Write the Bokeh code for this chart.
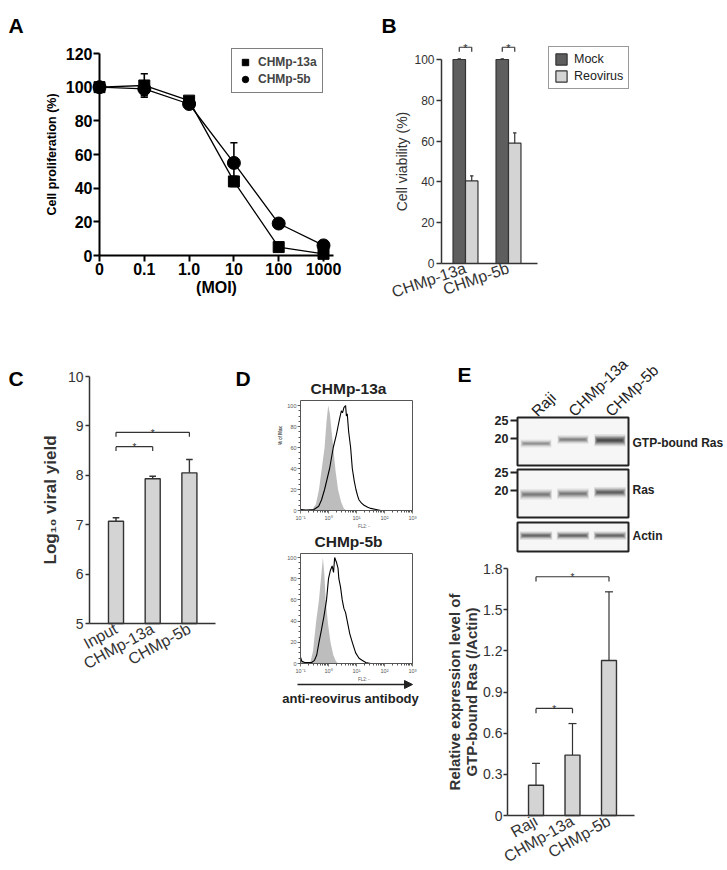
import numpy as np
from bokeh.plotting import figure
from bokeh.models import Range1d, Label, Legend, LegendItem, FixedTicker, Arrow, NormalHead, LinearAxis
from bokeh.core.properties import value
from bokeh.embed import file_html
from bokeh.resources import INLINE

FONT = "Liberation Sans"
W, H = 727, 870

# ---------------- data ----------------
# Panel A
moi_labels = ["0", "0.1", "1.0", "10", "100", "1000"]
prolif_13a = [100, 101, 92, 44, 5, 1]
prolif_13a_sd = [0.5, 7, 1.5, 3, 0.8, 0.5]
prolif_5b = [100, 99, 90, 55, 19, 6]
prolif_5b_sd = [0.5, 4, 1.2, 12, 2, 2]

# Panel B
via_lines = ["CHMp-13a", "CHMp-5b"]
via_mock = [100, 100]
via_mock_sd = [0.3, 0.3]
via_reo = [40.5, 59]
via_reo_sd = [2.5, 5]
via_sig_level = [106, 106]

# Panel C
yield_groups = ["Input", "CHMp-13a", "CHMp-5b"]
yield_log10 = [7.07, 7.93, 8.05]
yield_sd = [0.07, 0.05, 0.27]
yield_sig_pairs = [(0, 1), (0, 2)]
yield_sig_level = [8.58, 8.87]

# Panel D (log10 FL2 intensity, % of max)
d13_iso_x = [-1.0, -0.7, -0.58, -0.45, -0.34, -0.25, -0.14, -0.07, -0.01, 0.05, 0.10, 0.17, 0.25, 0.34, 0.45, 0.55, 0.62, 0.8, 3.0]
d13_iso_y = [0.5, 0.5, 1, 6, 20, 38, 60, 85, 100, 92, 78, 60, 38, 20, 8, 2, 0.5, 0, 0]
d13_ab_x = [-1.0, -0.8, -0.52, -0.35, -0.25, -0.14, -0.05, 0.04, 0.17, 0.28, 0.34, 0.40, 0.46, 0.50, 0.55, 0.61, 0.64, 0.67, 0.72, 0.79, 0.85, 0.92, 0.98, 1.04, 1.09, 1.18, 1.27, 1.40, 1.51, 1.70, 1.87, 3.0]
d13_ab_y = [1, 0.5, 1, 4, 10, 20, 30, 40, 60, 72, 80, 88, 95, 93, 98, 100, 90, 92, 75, 60, 40, 28, 20, 14, 10, 7, 5, 3, 2, 1, 0, 0]
d5_iso_x = [-1.0, -0.95, -0.85, -0.7, -0.64, -0.55, -0.52, -0.44, -0.34, -0.27, -0.2, -0.15, -0.1, -0.02, 0.07, 0.17, 0.27, 0.34, 0.5, 3.0]
d5_iso_y = [5, 3, 1, 1, 2, 12, 20, 40, 60, 80, 100, 85, 60, 38, 20, 8, 2, 0, 0, 0]
d5_ab_x = [-1.0, -0.95, -0.85, -0.6, -0.5, -0.42, -0.34, -0.25, -0.16, -0.07, 0.0, 0.07, 0.13, 0.18, 0.22, 0.29, 0.34, 0.37, 0.43, 0.49, 0.55, 0.61, 0.67, 0.76, 0.85, 0.97, 1.09, 1.2, 1.33, 1.5, 3.0]
d5_ab_y = [6, 2, 1, 1, 3, 8, 20, 32, 45, 60, 80, 88, 92, 86, 100, 95, 90, 80, 72, 60, 52, 48, 40, 28, 20, 10, 5, 3, 1, 0, 0]
d_decades = [-1, 0, 1, 2, 3]
d_decade_labels = ["10\u207b\u00b9", "10\u2070", "10\u00b9", "10\u00b2", "10\u00b3"]
d_pct_ticks = [0, 20, 40, 60, 80, 100]

# Panel E
lanes = ["Raji", "CHMp-13a", "CHMp-5b"]
gtp_band_intensity = [0.45, 0.55, 1.0]
gtp_band_kda = [18.6, 19.7, 19.5]
ras_band_intensity = [0.6, 0.6, 0.8]
ras_band_kda = [18.9, 19.1, 19.5]
actin_band_intensity = [0.75, 0.75, 0.75]
marker_kda = [20, 25]
ras_rel = [0.22, 0.44, 1.13]
ras_rel_sd = [0.16, 0.23, 0.50]
ras_sig_pairs = [(0, 2), (0, 1)]
ras_sig_level = [1.74, 0.78]

# ---------------- one canvas, one scale pair per panel ----------------
CAL = {}


def cal_val(name, px):
    pa, va, pb, vb = CAL[name]
    return va + (px - pa) * (vb - va) / (pb - pa)


xr, yr = {}, {}


def add_x(name, pa, va, pb, vb):
    CAL[name] = (pa, va, pb, vb)
    xr[name] = Range1d(cal_val(name, 0), cal_val(name, W))


def add_y(name, pa, va, pb, vb):
    CAL[name] = (pa, va, pb, vb)
    yr[name] = Range1d(cal_val(name, H), cal_val(name, 0))


add_x("Ax", 99, 0, 323, 5);        add_y("Ay", 255, 0, 53, 120)
add_x("Bx", 465, 0, 508, 1);       add_y("By", 263, 0, 59, 100)
add_x("Cx", 115.5, 0, 152.2, 1);   add_y("Cy", 623, 5, 376, 10)
add_x("Dx", 300, -1, 412, 3)
add_y("D1y", 510, 0, 405, 100);    add_y("D2y", 663, 0, 557, 100)
add_x("Ex", 517, -0.5, 628, 2.5)
add_y("E1y", 438, 20, 420, 25);    add_y("E2y", 490, 20, 472, 25);  add_y("E3y", 551, 0, 522, 1)
add_x("E4x", 535.5, 0, 572, 1);    add_y("E4y", 815, 0, 568, 1.8)

p = figure(width=W, height=H, x_range=Range1d(0, W), y_range=Range1d(H, 0),
           x_axis_location=None, y_axis_location=None,
           output_backend="svg", toolbar_location=None,
           min_border_left=0, min_border_right=0, min_border_top=0, min_border_bottom=0)
p.extra_x_ranges = xr
p.extra_y_ranges = yr
p.xgrid.visible = False
p.ygrid.visible = False
p.outline_line_color = None
p.title.visible = False
p.background_fill_color = "white"
p.border_fill_color = "white"


def style_axis(ax, size, bold, color, lw, tick_out, standoff, lab_size=None, lab_bold=True, lab_standoff=5):
    ax.axis_line_color = color
    ax.axis_line_width = lw
    ax.major_tick_line_color = color
    ax.major_tick_line_width = lw
    ax.major_tick_out = tick_out
    ax.major_tick_in = 0
    ax.minor_tick_line_color = None
    ax.major_label_text_font = FONT
    ax.major_label_text_font_size = size
    ax.major_label_text_font_style = "bold" if bold else "normal"
    ax.major_label_text_color = color
    ax.major_label_standoff = standoff
    ax.axis_label_text_font = FONT
    ax.axis_label_text_font_size = lab_size or size
    ax.axis_label_text_font_style = "bold" if lab_bold else "normal"
    ax.axis_label_text_color = color
    ax.axis_label_standoff = lab_standoff


def axis(side, xn, yn, loc, ticks, bounds=None, overrides=None, minor=None):
    ax = LinearAxis(x_range_name=xn, y_range_name=yn, fixed_location=loc,
                    ticker=FixedTicker(ticks=ticks, minor_ticks=minor or []))
    if bounds is not None:
        ax.bounds = bounds
    if overrides:
        ax.major_label_overrides = overrides
    p.add_layout(ax, side)
    return ax


def text_at(px, py, text, size, bold=True, align="left", baseline="alphabetic", color="black", angle=0):
    p.add_layout(Label(x=px, y=py, text=text, text_font=FONT, text_font_size=size,
                       text_font_style="bold" if bold else "normal", text_align=align,
                       text_baseline=baseline, text_color=color, angle=angle, angle_units="deg"))


def errbars(xs, ys, sd, cap, color, lw, xn, yn, up_only=True):
    hi = [y + s for y, s in zip(ys, sd)]
    lo = list(ys) if up_only else [y - s for y, s in zip(ys, sd)]
    kw = dict(line_color=color, line_width=lw, x_range_name=xn, y_range_name=yn)
    p.segment(x0=xs, y0=lo, x1=xs, y1=hi, **kw)
    p.segment(x0=[x - cap for x in xs], y0=hi, x1=[x + cap for x in xs], y1=hi, **kw)
    if not up_only:
        p.segment(x0=[x - cap for x in xs], y0=lo, x1=[x + cap for x in xs], y1=lo, **kw)


def brackets(xa, xb, levels, drop, color, lw, star_size, xn, yn):
    kw = dict(line_color=color, line_width=lw, x_range_name=xn, y_range_name=yn)
    p.segment(x0=xa, y0=levels, x1=xb, y1=levels, **kw)
    p.segment(x0=xa, y0=levels, x1=xa, y1=[l - drop for l in levels], **kw)
    p.segment(x0=xb, y0=levels, x1=xb, y1=[l - drop for l in levels], **kw)
    p.text(x=[(a + b) / 2 for a, b in zip(xa, xb)], y=levels, text=["*"] * len(levels),
           text_font=value(FONT), text_font_size=star_size, text_align="center",
           text_baseline="alphabetic", text_color=color, y_offset=1, x_range_name=xn, y_range_name=yn)


GRAY = "#333333"
BARFILL = "#d4d4d4"

# ---------------- Panel A ----------------
A = dict(x_range_name="Ax", y_range_name="Ay")
xA = list(range(len(moi_labels)))
p.line(xA, prolif_13a, line_color="black", line_width=1.3, **A)
p.line(xA, prolif_5b, line_color="black", line_width=1.3, **A)
errbars(xA, prolif_13a, prolif_13a_sd, 0.08, "black", 1.6, "Ax", "Ay", up_only=False)
errbars(xA, prolif_5b, prolif_5b_sd, 0.08, "black", 1.6, "Ax", "Ay", up_only=False)
sq = p.scatter(xA, prolif_13a, marker="square", size=11, fill_color="black", line_color="black", **A)
ci = p.scatter(xA, prolif_5b, marker="circle", size=13, fill_color="black", line_color="black", **A)
ax = axis("below", "Ax", "Ay", 0, xA, bounds=(0, cal_val("Ax", 333)),
          overrides={i: s for i, s in enumerate(moi_labels)})
style_axis(ax, "16px", True, "black", 2, 6, 1, "16px", True, 1)
ax.axis_label = "(MOI)"
ax = axis("left", "Ax", "Ay", 0, [0, 20, 40, 60, 80, 100, 120], bounds=(0, 120))
style_axis(ax, "16px", True, "black", 2, 6, 1, "12.5px", True, 4)
ax.axis_label = "Cell proliferation (%)"
p.add_layout(Legend(items=[LegendItem(label="CHMp-13a", renderers=[sq]), LegendItem(label="CHMp-5b", renderers=[ci])],
                    location=(231, H - 93), margin=0, padding=5, spacing=1,
                    glyph_width=16, glyph_height=16, label_height=16, label_standoff=5,
                    label_text_font=FONT, label_text_font_size="12px", label_text_font_style="bold",
                    border_line_color="black", border_line_width=1.2, background_fill_alpha=1))
text_at(8, 25, "A", "21px")

# ---------------- Panel B ----------------
B = dict(x_range_name="Bx", y_range_name="By")
xB = list(range(len(via_lines)))
bw = 0.29
xm = [x - bw / 2 for x in xB]
xrr = [x + bw / 2 for x in xB]
mock_r = p.vbar(x=xm, top=via_mock, bottom=0, width=bw, fill_color="#5e5e5e", line_color=GRAY, line_width=1.2, **B)
reo_r = p.vbar(x=xrr, top=via_reo, bottom=0, width=bw, fill_color=BARFILL, line_color=GRAY, line_width=1.2, **B)
errbars(xm, via_mock, via_mock_sd, 0.04, GRAY, 1.2, "Bx", "By")
errbars(xrr, via_reo, via_reo_sd, 0.04, GRAY, 1.2, "Bx", "By")
brackets(xm, xrr, via_sig_level, 2.2, GRAY, 1.2, "11px", "Bx", "By")
bx_left = cal_val("Bx", 441)
ax = axis("below", "Bx", "By", 0, xB, bounds=(bx_left, cal_val("Bx", 537)),
          overrides={i: s for i, s in enumerate(via_lines)})
style_axis(ax, "16px", False, GRAY, 1.5, 0, 4)
ax.major_label_orientation = 0.33
ax = axis("left", "Bx", "By", bx_left, [0, 20, 40, 60, 80, 100], bounds=(0, 100))
style_axis(ax, "12px", False, GRAY, 1.5, 5, 2, "14px", False, 1)
ax.axis_label = "Cell viability (%)"
p.add_layout(Legend(items=[LegendItem(label="Mock", renderers=[mock_r]), LegendItem(label="Reovirus", renderers=[reo_r])],
                    location=(548, H - 89), margin=0, padding=5, spacing=3,
                    glyph_width=14, glyph_height=14, label_height=14, label_standoff=6,
                    label_text_font=FONT, label_text_font_size="12.5px", label_text_color="#222222",
                    border_line_color=GRAY, border_line_width=1.2, background_fill_alpha=1))
text_at(381, 25, "B", "21px")

# ---------------- Panel C ----------------
C = dict(x_range_name="Cx", y_range_name="Cy")
xC = list(range(len(yield_groups)))
p.vbar(x=xC, top=yield_log10, bottom=5, width=0.41, fill_color=BARFILL, line_color=GRAY, line_width=1.4, **C)
errbars(xC, yield_log10, yield_sd, 0.09, GRAY, 1.4, "Cx", "Cy")
brackets([xC[a] for a, b in yield_sig_pairs], [xC[b] for a, b in yield_sig_pairs],
         yield_sig_level, 0.09, GRAY, 1.2, "10px", "Cx", "Cy")
cx_left = cal_val("Cx", 89)
ax = axis("below", "Cx", "Cy", 5, xC, bounds=(cx_left, cal_val("Cx", 215)),
          overrides={i: s for i, s in enumerate(yield_groups)})
style_axis(ax, "16px", False, GRAY, 1.5, 0, 4)
ax.major_label_orientation = 0.5
ax = axis("left", "Cx", "Cy", cx_left, [5, 6, 7, 8, 9, 10], bounds=(5, 10))
style_axis(ax, "14px", False, GRAY, 1.5, 4, 2, "17px", True, 5)
ax.axis_label = "Log\u2081\u2080 viral yield"
text_at(8, 378, "C", "21px")

# ---------------- Panel D ----------------
minors = [d + np.log10(k) for d in d_decades[:-1] for k in range(2, 10)]
for yn, iso_x, iso_y, ab_x, ab_y, title, title_py, top_px in [
        ("D1y", d13_iso_x, d13_iso_y, d13_ab_x, d13_ab_y, "CHMp-13a", 388, 400),
        ("D2y", d5_iso_x, d5_iso_y, d5_ab_x, d5_ab_y, "CHMp-5b", 541, 553)]:
    D = dict(x_range_name="Dx", y_range_name=yn)
    p.varea(x=iso_x, y1=[0] * len(iso_x), y2=iso_y, fill_color="#bdbdbd", **D)
    p.line(ab_x, ab_y, line_color="black", line_width=1.1, **D)
    p.quad(left=[-1], right=[3], bottom=[0], top=[cal_val(yn, top_px)], fill_color=None,
           line_color="#555555", line_width=1, **D)
    ax = axis("below", "Dx", yn, 0, d_decades, overrides=dict(zip(d_decades, d_decade_labels)), minor=minors)
    style_axis(ax, "5.5px", False, "#555555", 0.8, 3, 1, "4.5px", False, 0)
    ax.axis_label = "FL2: -"
    ay = axis("left", "Dx", yn, -1, d_pct_ticks, minor=list(range(0, 101, 5)))
    style_axis(ay, "5.5px", False, "#555555", 0.8, 3, 1, "4.5px", False, 1)
    ay.axis_label = "% of Max"
    for a_ in (ax, ay):
        a_.axis_line_color = None
        a_.minor_tick_line_color = "#555555"
        a_.minor_tick_out = 2
        a_.minor_tick_in = 0
    text_at(348, title_py, title, "15.5px", True, "center", "middle", "#222222")
text_at(235, 378, "D", "21px")
p.add_layout(Arrow(end=NormalHead(size=8, fill_color="#222222", line_color="#222222"),
                   x_start=297, y_start=684, x_end=412, y_end=684,
                   line_color="#222222", line_width=1.5))
text_at(350, 698, "anti-reovirus antibody", "13px", True, "center", "alphabetic", "#222222")

# ---------------- Panel E: blots ----------------
lane_x = list(range(len(lanes)))


def bands(yn, ys, intens, heights, width):
    for wf, hf, a in [(1.0, 1.5, 0.12), (0.97, 1.1, 0.18), (0.93, 0.8, 0.25), (0.88, 0.5, 0.3), (0.82, 0.25, 0.3)]:
        p.rect(x=lane_x, y=ys, width=width * wf, height=[h * hf for h in heights],
               fill_color="#111111", fill_alpha=[a * i for i in intens], line_color=None,
               x_range_name="Ex", y_range_name=yn)


for yn, top_px, bot_px in [("E1y", 417, 465), ("E2y", 469, 517), ("E3y", 522, 551)]:
    p.quad(left=[-0.5], right=[2.5], bottom=[cal_val(yn, bot_px)], top=[cal_val(yn, top_px)],
           fill_color="#f6f6f6", line_color="#222222", line_width=2, x_range_name="Ex", y_range_name=yn)

bands("E1y", gtp_band_kda, gtp_band_intensity, [1.0 + 1.2 * a for a in gtp_band_intensity], 0.84)
bands("E2y", ras_band_kda, ras_band_intensity, [2.0] * 3, 0.86)
bands("E3y", [0.55] * 3, actin_band_intensity, [0.2] * 3, 0.88)

for yn in ("E1y", "E2y"):
    ax = axis("left", "Ex", yn, -0.5, marker_kda)
    style_axis(ax, "12.5px", True, "#222222", 2, 7, 2)
    ax.axis_line_color = None

for i, name in enumerate(lanes):
    lx = 535.5 + 37 * lane_x[i] - 2
    text_at(lx, 413, name, "15.5px", False, "left", "alphabetic", "#222222", angle=44)
text_at(632, 442, "GTP-bound Ras", "12px", True, "left", "middle", "#222222")
text_at(632, 489, "Ras", "12px", True, "left", "middle", "#222222")
text_at(632, 535, "Actin", "12px", True, "left", "middle", "#222222")
text_at(457, 374, "E", "21px")

# ---------------- Panel E: bar chart ----------------
E4 = dict(x_range_name="E4x", y_range_name="E4y")
p.vbar(x=lane_x, top=ras_rel, bottom=0, width=0.41, fill_color=BARFILL, line_color=GRAY, line_width=1.4, **E4)
errbars(lane_x, ras_rel, ras_rel_sd, 0.11, GRAY, 1.2, "E4x", "E4y")
brackets([lane_x[a] for a, b in ras_sig_pairs], [lane_x[b] for a, b in ras_sig_pairs],
         ras_sig_level, 0.035, GRAY, 1.2, "10px", "E4x", "E4y")
e_left = cal_val("E4x", 507)
ax = axis("below", "E4x", "E4y", 0, lane_x, bounds=(e_left, cal_val("E4x", 634)),
          overrides={i: s for i, s in enumerate(lanes)})
style_axis(ax, "16px", False, GRAY, 1.5, 0, 4)
ax.major_label_orientation = 0.52
ax = axis("left", "E4x", "E4y", e_left, [0, 0.3, 0.6, 0.9, 1.2, 1.5, 1.8], bounds=(0, 1.8),
          overrides={0: "0"})
style_axis(ax, "14px", False, GRAY, 1.5, 4, 1, "15px", True, 0)
ax.axis_label_text_line_height = 1.0
ax.axis_label = "Relative expression level of\nGTP-bound Ras (/Actin)"

open("out.html", "w").write(file_html(p, INLINE))
